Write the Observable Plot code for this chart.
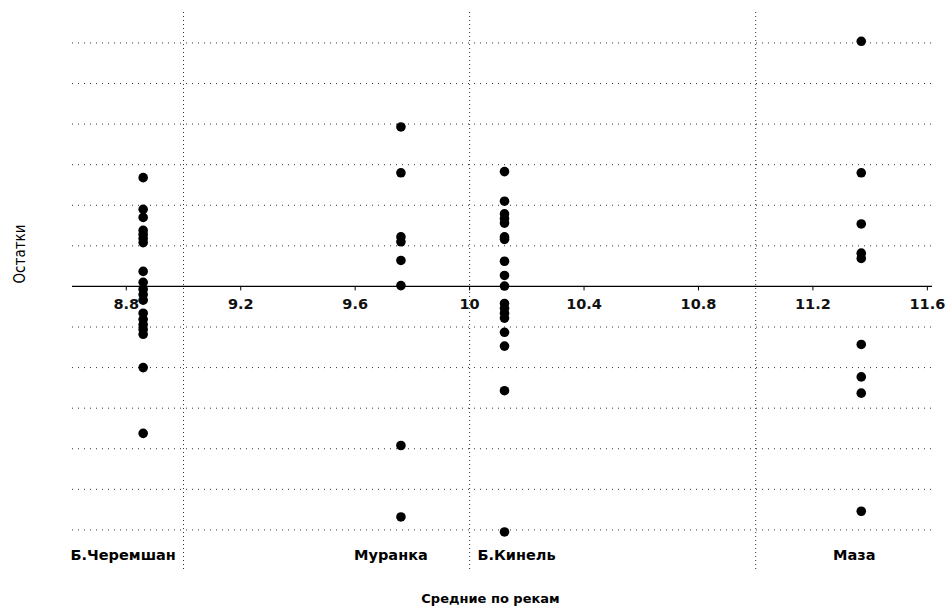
<!DOCTYPE html>
<html>
<head>
<meta charset="utf-8">
<script src="https://cdn.jsdelivr.net/npm/d3@7"></script>
<script src="https://cdn.jsdelivr.net/npm/@observablehq/plot@0.6"></script>
<style>
  html, body { margin: 0; padding: 0; background: #fff; }
  svg { display: block; }
</style>
</head>
<body>
<div id="chart"></div>
<script>
// Rivers (categories) and their mean values (x)
const rivers = ["Б.Черемшан", "Муранка", "Б.Кинель", "Маза"];
const riverMeans = [8.859, 9.760, 10.122, 11.369];

// Residuals per river
const resCheremshan = [2.68, 1.90, 1.70, 1.38, 1.28, 1.18, 1.08, 0.37, 0.10, -0.07, -0.20, -0.34, -0.66, -0.81, -0.94, -1.06, -1.18, -2.00, -3.62];
const resMuranka = [3.93, 2.80, 1.22, 1.10, 0.64, 0.02, -3.92, -5.68];
const resKinel = [2.83, 2.10, 1.79, 1.67, 1.56, 1.22, 1.16, 0.62, 0.27, 0.01, -0.42, -0.54, -0.66, -0.78, -1.13, -1.47, -2.57, -6.05];
const resMaza = [6.04, 2.80, 1.54, 0.82, 0.69, -1.43, -2.23, -2.63, -5.54];

// Axis ticks and grid
const xTicks = [8.8, 9.2, 9.6, 10, 10.4, 10.8, 11.2, 11.6];
const xTickLabels = ["8.8", "9.2", "9.6", "10", "10.4", "10.8", "11.2", "11.6"];
const xGrid = [9, 10, 11];
const yGrid = [-6, -5, -4, -3, -2, -1, 1, 2, 3, 4, 5, 6];

const yLabel = "Остатки";
const xLabel = "Средние по рекам";

const residuals = [resCheremshan, resMuranka, resKinel, resMaza];
const points = residuals.flatMap((arr, i) => arr.map(r => ({river: rivers[i], x: riverMeans[i], y: r})));
const riverDx = [-20, -10, 12, -7];
const ticks = xTicks.map((t, i) => ({x: t, label: xTickLabels[i]}));

const font = "DejaVu Sans, Verdana, sans-serif";

const chart = Plot.plot({
  width: 946,
  height: 616,
  marginLeft: 72,
  marginRight: 14,
  marginTop: 12,
  marginBottom: 46,
  style: {fontFamily: font, background: "#fff", overflow: "visible"},
  x: {domain: [8.612, 11.618], axis: null},
  y: {domain: [-7, 6.75], axis: null},
  marks: [
    Plot.ruleY(yGrid, {stroke: "#333", strokeWidth: 1, strokeDasharray: "1,5"}),
    Plot.ruleX(xGrid, {stroke: "#333", strokeWidth: 1, strokeDasharray: "1,3"}),
    Plot.ruleY([0], {stroke: "#000", strokeWidth: 1.2}),
    Plot.ruleX(ticks, {x: "x", y1: 0, y2: -0.11, stroke: "#000", strokeWidth: 1}),
    Plot.text(ticks, {x: "x", y: 0, dy: 18, text: "label", fontSize: 14.5, fontWeight: "bold", fill: "#111"}),
    Plot.dot(points, {x: "x", y: "y", r: 4.8, fill: "#000", stroke: "none"}),
    ...rivers.map((r, i) => Plot.text([r], {
      x: () => riverMeans[i], frameAnchor: "bottom", dy: -11, dx: riverDx[i],
      text: d => d, fontSize: 14.5, fontWeight: "bold", fill: "#000"
    })),
    Plot.text([yLabel], {frameAnchor: "left", dx: -52, dy: -8, rotate: -90, fontSize: 15,
      fontFamily: "Liberation Sans Narrow, DejaVu Sans Condensed, sans-serif", fill: "#000"}),
    Plot.text([xLabel], {frameAnchor: "bottom", dx: -12, dy: 32, fontSize: 13, fontWeight: "bold", fill: "#000", style: "letter-spacing:1px"})
  ]
});
document.getElementById("chart").appendChild(chart);
</script>
</body>
</html>
